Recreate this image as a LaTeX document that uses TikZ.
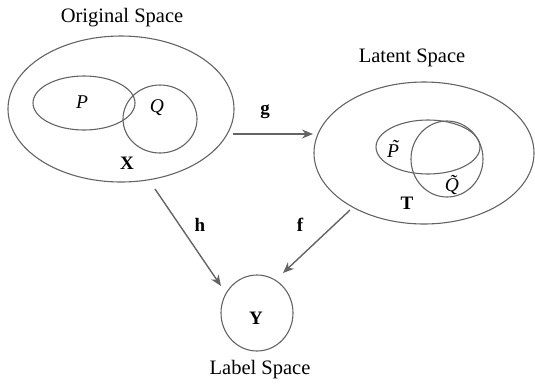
\documentclass[tikz,border=0pt]{standalone}
\usepackage{fontspec}
\setmainfont{Liberation Serif}
\usetikzlibrary{shapes.geometric,arrows.meta}
\definecolor{linegray}{RGB}{100,100,100}
\newcommand{\tildeon}[1]{\rlap{\hspace{0.24em}\raisebox{0.2em}{\char"02DC}}#1}
\tikzset{
  set/.style={draw=linegray, line width=1.1pt, ellipse, inner sep=0pt},
  arr/.style={draw=linegray, line width=1.4pt, -{Stealth[length=11pt,width=9pt]}},
  spacename/.style={font=\fontsize{20.5}{24}\selectfont},
  var/.style={font=\fontsize{19}{22}\selectfont\bfseries},
  dist/.style={font=\fontsize{19.5}{23}\selectfont\itshape},
}

\begin{document}
\begin{tikzpicture}[x=1pt,y=-1pt]
\useasboundingbox (0,0) rectangle (535,384);
% original space
\node[set, minimum width=226pt, minimum height=146pt] (X) at (121,109) {};
\node[set, minimum width=102pt, minimum height=54pt] (P) at (84,103) {};
\node[set, minimum width=74pt, minimum height=68pt] (Q) at (160,119) {};
\node[spacename] (origname) at (122,18) {Original Space};
\node[dist] (Plab) at (82,102) {P};
\node[dist] (Qlab) at (157,108) {Q};
\node[var] (Xlab) at (127,163) {X};
% latent space
\node[set, minimum width=220pt, minimum height=142pt] (T) at (424,153) {};
\node[set, minimum width=104pt, minimum height=54pt] (Pt) at (428,147) {};
\node[set, minimum width=72pt, minimum height=76pt] (Qt) at (447,159) {};
\node[spacename] (latname) at (412,58) {Latent Space};
\node[dist] (Ptlab) at (393,149) {\tildeon{P}};
\node[dist] (Qtlab) at (452,185) {\tildeon{Q}};
\node[var] (Tlab) at (407,203) {T};
% label space
\node[set, minimum width=72pt, minimum height=76pt] (Y) at (257,313) {};
\node[var] (Ylab) at (256,318) {Y};
\node[spacename] (labname) at (260,370) {Label Space};
% maps
\coordinate (g0) at (233,134);
\coordinate (g1) at (313,134);
\coordinate (h0) at (155,189);
\coordinate (h1) at (221,286);
\coordinate (f0) at (350,210);
\coordinate (f1) at (283,273);
\draw[arr] (g0) -- (g1);
\draw[arr] (h0) -- (h1);
\draw[arr] (f0) -- (f1);
\node[var] (glab) at (265,112) {g};
\node[var] (hlab) at (200,225) {h};
\node[var] (flab) at (300,225) {f};
\end{tikzpicture}
\end{document}
